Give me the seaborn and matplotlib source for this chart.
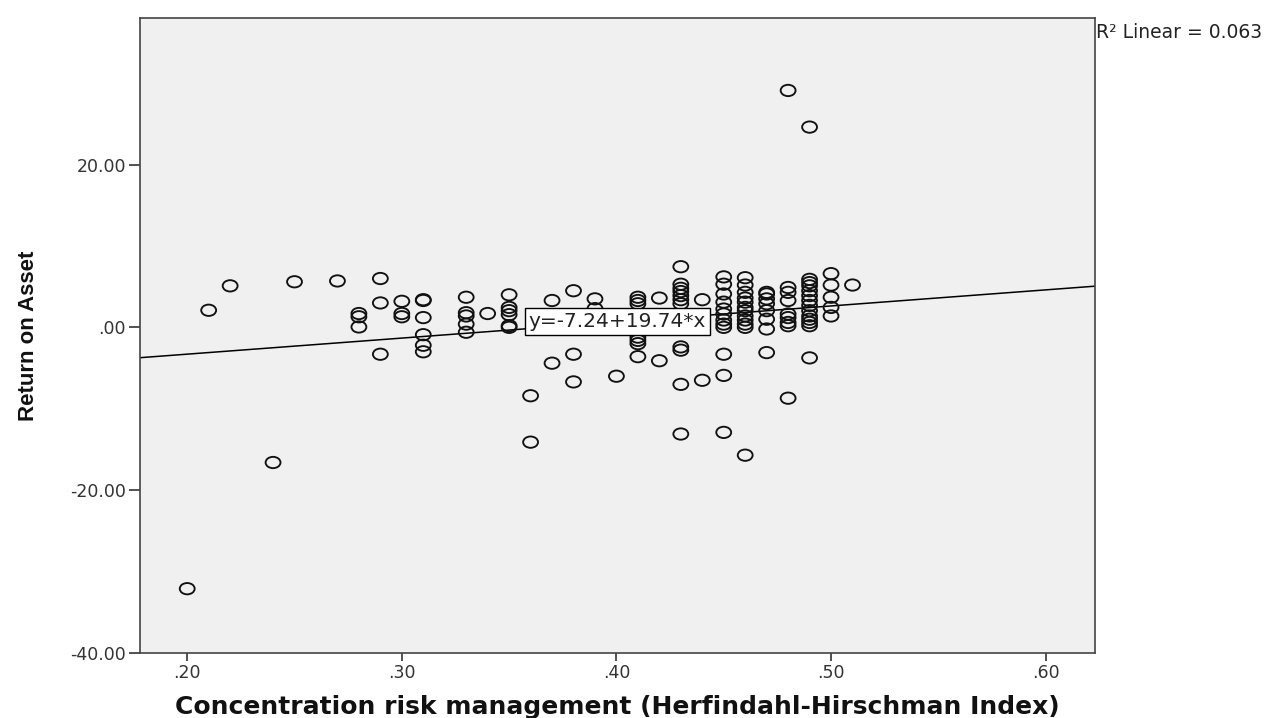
import matplotlib
matplotlib.use("Agg")
import matplotlib.pyplot as plt
from matplotlib.path import Path
from matplotlib.ticker import FuncFormatter
import pandas as pd
import seaborn as sns

# HHI (x) and ROA (y)
hhi = ([0.20, 0.21, 0.22, 0.24, 0.25, 0.27]
       + [0.28] * 3 + [0.29] * 3 + [0.30] * 3 + [0.31] * 6
       + [0.33] * 5 + [0.34] + [0.35] * 6 + [0.36] * 2 + [0.37] * 2
       + [0.38] * 3 + [0.39] * 2 + [0.40] + [0.41] * 7 + [0.42] * 2
       + [0.43] * 11 + [0.44] * 2 + [0.45] * 12 + [0.46] * 12
       + [0.47] * 8 + [0.48] * 9 + [0.49] * 14 + [0.50] * 5 + [0.51])
roa = ([-32.1, 2.1, 5.1, -16.6, 5.6, 5.7]
       + [1.7, 1.3, 0.05]
       + [6.0, 3.0, -3.3]
       + [3.2, 1.7, 1.3]
       + [3.4, 3.3, 1.2, -0.9, -2.2, -3.0]
       + [3.7, 1.8, 1.4, 0.4, -0.6]
       + [1.7]
       + [4.0, 2.45, 2.05, 1.56, 0.2, 0.0]
       + [-8.4, -14.1]
       + [3.3, -4.4]
       + [4.5, -3.3, -6.7]
       + [3.5, 2.3]
       + [-6.0]
       + [3.7, 3.3, 2.9, -1.2, -1.6, -2.0, -3.6]
       + [3.6, -4.1]
       + [7.45, 5.3, 4.8, 4.4, 3.9, 3.4, 2.9, -2.4, -2.8, -7.0, -13.1]
       + [3.4, -6.5]
       + [6.2, 5.3, 4.1, 3.1, 2.25, 1.64, 0.9, 0.4, 0.0, -3.3, -5.9, -12.9]
       + [6.1, 5.2, 4.3, 3.6, 3.1, 2.45, 2.05, 1.4, 0.9, 0.4, 0.0, -15.7]
       + [4.3, 4.1, 3.5, 2.9, 2.05, 1.0, -0.2, -3.1]
       + [29.1, 4.9, 4.3, 3.3, 1.64, 1.2, 0.6, 0.2, -8.7]
       + [24.6, 5.9, 5.5, 5.1, 4.5, 3.9, 3.3, 2.7, 2.05, 1.4, 1.0, 0.6, 0.2, -3.75]
       + [6.6, 5.2, 3.7, 2.45, 1.4]
       + [5.2])

# fit line as printed on the chart
fit_intercept = -7.24
fit_slope = 19.74
r_squared = 0.063

x_ticks = [0.20, 0.30, 0.40, 0.50, 0.60]
y_ticks = [-40, -20, 0, 20]

df = pd.DataFrame({"hhi": hhi, "roa": roa})

sns.set_style("ticks")
plt.rcParams["font.family"] = ["DejaVu Sans"]

fig = plt.figure(figsize=(12.74, 7.18), dpi=100)
ax = fig.add_axes([140 / 1274, 1 - 653 / 718, 955 / 1274, 635 / 718])
ax.set_facecolor("#f0f0f0")

# SPSS style open markers, a bit wider than tall
ring = Path.unit_circle()
oval = Path(ring.vertices * [1.0, 0.76], ring.codes)

sns.scatterplot(data=df, x="hhi", y="roa", ax=ax, marker=oval, s=115,
                color="black", facecolor="none", edgecolor="#111111",
                linewidth=1.35, zorder=3)

ax.set_xlim(0.178, 0.623)
ax.set_ylim(-40, 38)

ax.axline((0, fit_intercept), slope=fit_slope, color="black", lw=1.1, zorder=2)

x_mid = sum(ax.get_xlim()) / 2
ax.text(x_mid, fit_intercept + fit_slope * x_mid,
        f"y={fit_intercept:.2f}+{fit_slope:.2f}*x",
        ha="center", va="center", fontsize=14.5, color="#222222", zorder=5,
        bbox=dict(boxstyle="square,pad=0.2", fc="white", ec="black", lw=1.0))

fig.text(1096 / 1274, 1 - 33 / 718, f"R\u00b2 Linear = {r_squared:.3f}",
         fontsize=13.5, ha="left", va="center", color="#222222")


def dec_fmt(v, _pos):
    s = f"{v:.2f}"
    if abs(v) < 1:
        s = s.replace("0.", ".", 1)
    return s


ax.set_xticks(x_ticks)
ax.set_yticks(y_ticks)
ax.xaxis.set_major_formatter(FuncFormatter(dec_fmt))
ax.yaxis.set_major_formatter(FuncFormatter(dec_fmt))
ax.tick_params(direction="out", width=1.2, color="#333333",
               labelsize=12.5, labelcolor="#333333", pad=2)
ax.tick_params(axis="x", length=6)
ax.tick_params(axis="y", length=8)

for sp in ax.spines.values():
    sp.set_color("#444444")
    sp.set_linewidth(1.2)

ax.set_xlabel("Concentration risk management (Herfindahl-Hirschman Index)",
              fontsize=18, fontweight="bold", color="#111111")
ax.xaxis.set_label_coords(0.5, -0.066)
ax.set_ylabel("Return on Asset", fontsize=16, fontweight="heavy", color="#111111",
              family=["Liberation Sans", "DejaVu Sans"])
ax.yaxis.set_label_coords(-0.106, 0.5)

fig.savefig("out.png", dpi=100, facecolor="white")
